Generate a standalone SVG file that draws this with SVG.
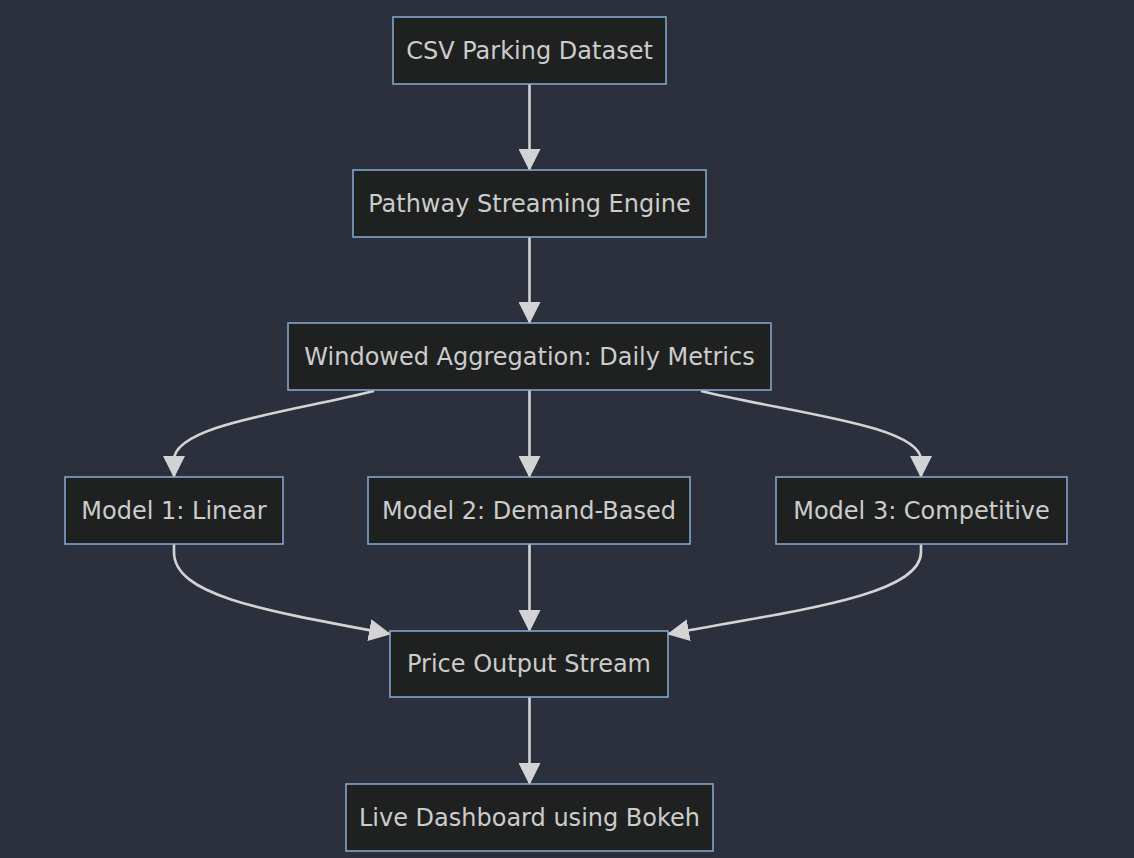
<svg xmlns="http://www.w3.org/2000/svg" width="1134" height="858" viewBox="0 0 1134 858">
<defs>
<style>
.node rect{fill:#1f2020;stroke:#81a6cc;stroke-width:1.6}
.node text{fill:#cccccc;font-family:"DejaVu Sans",Verdana,sans-serif;font-size:24px;text-anchor:middle;dominant-baseline:central}
.edges path{fill:none;stroke:#d3d3d3;stroke-width:2.6}
</style>
<marker id="arr" markerUnits="userSpaceOnUse" markerWidth="22" markerHeight="22" viewBox="0 0 22 22" refX="21" refY="11" orient="auto">
<path d="M0,0 L22,11 L0,22 z" fill="#d3d3d3"/>
</marker>
</defs>
<rect width="1134" height="858" fill="#2b303c"/>
<g class="edges">
<path d="M529.5,84 L529.5,170" marker-end="url(#arr)"/>
<path d="M529.5,237 L529.5,323" marker-end="url(#arr)"/>
<path d="M374,391 C290,412 174,425 174,460 L174,477" marker-end="url(#arr)"/>
<path d="M529.5,390 L529.5,477" marker-end="url(#arr)"/>
<path d="M701,391 C785,412 921,425 921,460 L921,477" marker-end="url(#arr)"/>
<path d="M174,544 L174,552 C174,595 260,610 390,634" marker-end="url(#arr)"/>
<path d="M529.5,544 L529.5,631" marker-end="url(#arr)"/>
<path d="M921,544 L921,552 C921,595 800,610 668,634" marker-end="url(#arr)"/>
<path d="M529.5,697 L529.5,784" marker-end="url(#arr)"/>
</g>
<g id="csv" class="node"><rect x="393" y="17" width="273" height="67"/><text x="529.5" y="50.5">CSV Parking Dataset</text></g>
<g id="pathway" class="node"><rect x="353" y="170" width="353" height="67"/><text x="529.5" y="203.5">Pathway Streaming Engine</text></g>
<g id="windowed" class="node"><rect x="288" y="323" width="483" height="67"/><text x="529.5" y="356.5">Windowed Aggregation: Daily Metrics</text></g>
<g id="model1" class="node"><rect x="65" y="477" width="218" height="67"/><text x="174" y="510.5">Model 1: Linear</text></g>
<g id="model2" class="node"><rect x="368" y="477" width="322" height="67"/><text x="529" y="510.5">Model 2: Demand-Based</text></g>
<g id="model3" class="node"><rect x="776" y="477" width="291" height="67"/><text x="921.5" y="510.5">Model 3: Competitive</text></g>
<g id="price" class="node"><rect x="390" y="631" width="278" height="66"/><text x="529" y="664">Price Output Stream</text></g>
<g id="live" class="node"><rect x="346" y="784" width="367" height="67"/><text x="529.5" y="817.5">Live Dashboard using Bokeh</text></g>
</svg>
